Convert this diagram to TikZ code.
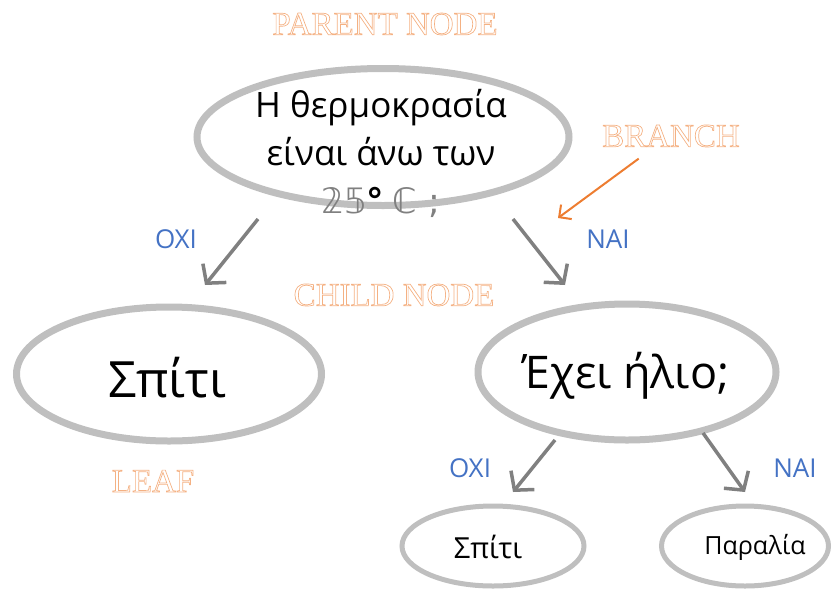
\documentclass[tikz,border=0pt]{standalone}
\usepackage{fontspec}
\setmainfont{Open Sans}
\newfontfamily\tagfont{Liberation Serif}
\newfontfamily\symbfont{DejaVu Sans}
\usetikzlibrary{arrows.meta, positioning, shapes.geometric, calc}

\definecolor{ringgray}{RGB}{191,191,191}
\definecolor{edgegray}{RGB}{128,128,128}
\definecolor{answerblue}{RGB}{68,114,196}
\definecolor{tagorange}{RGB}{244,177,131}
\definecolor{pointorange}{RGB}{237,125,49}

% hollow letters for the orange tags
\newcommand{\hollow}[1]{\special{pdf:literal direct 1 Tr 0.7 w}#1\special{pdf:literal direct 0 Tr}}

\begin{document}
\begin{tikzpicture}[x=1pt, y=-1pt,
    question/.style={ellipse, draw=ringgray, line width=7pt, inner sep=0pt},
    smallq/.style={ellipse, draw=ringgray, line width=5pt, inner sep=0pt},
    tag/.style={text=tagorange, font=\tagfont\fontsize{33}{33}\selectfont},
    answer/.style={text=answerblue, font=\fontsize{26}{26}\selectfont},
    edge/.style={draw=edgegray, line width=3.5pt, -{Straight Barb[length=13pt, width=30pt]}}]

    \useasboundingbox (0,0) rectangle (838,590);

    % the nodes of the tree
    \node[question, minimum width=372pt, minimum height=137pt] (root) at (383,137) {};
    \node[question, minimum width=305pt, minimum height=134pt] (home) at (169,374) {};
    \node[question, minimum width=298pt, minimum height=136pt] (sun) at (627,372) {};
    \node[smallq, minimum width=182pt, minimum height=80pt] (home2) at (493,546) {};
    \node[smallq, minimum width=167pt, minimum height=80pt] (beach) at (745,546) {};

    \node[align=center, font=\fontsize{35}{48}\selectfont] (roottext) at (381,153)
        {Η θερμοκρασία\\είναι άνω των\\{\symbfont\color{edgegray}𝟚𝟝}{\symbfont\bfseries °} {\symbfont\color{edgegray}ℂ ;}};
    \node[font=\fontsize{50}{50}\selectfont] (hometext) at ($(home)+(-2,4)$) {Σπίτι};
    \node[font=\fontsize{45}{45}\selectfont] (suntext) at ($(sun)+(-1,4)$) {Έχει ήλιο;};
    \node[font=\fontsize{29}{29}\selectfont] (home2text) at ($(home2)+(-5,1)$) {Σπίτι};
    \node[font=\fontsize{25}{25}\selectfont] (beachtext) at ($(beach)+(10,1)$) {Παραλία};

    % branches
    \draw[edge] ($(root)+(-125,82)$) -- ($(home)+(36,-89)$);
    \draw[edge] ($(root)+(130,82)$) -- ($(sun)+(-62,-87)$);
    \draw[edge] ($(sun)+(-72,68)$) -- ($(home2)+(20,-54)$);
    \draw[edge] ($(sun)+(76,61)$) -- ($(beach)+(0,-54)$);

    \node[answer] (no1) at (176,239) {OXI};
    \node[answer] (yes1) at (608,239) {NAI};
    \node[answer] (no2) at (470,468) {OXI};
    \node[answer] (yes2) at (795,468) {NAI};

    % what the parts are called
    \node[tag] (parenttag) at (385,24) {\hollow{PARENT NODE}};
    \node[tag] (branchtag) at (671,136) {\hollow{BRANCH}};
    \node[tag] (childtag) at (394,295) {\hollow{CHILD NODE}};
    \node[tag] (leaftag) at (153,481) {\hollow{LEAF}};

    \draw[pointorange, line width=2pt, -{Straight Barb[length=9pt, width=18pt]}]
        ($(branchtag.south west)+(40,8)$) -- (558,218);
\end{tikzpicture}
\end{document}
